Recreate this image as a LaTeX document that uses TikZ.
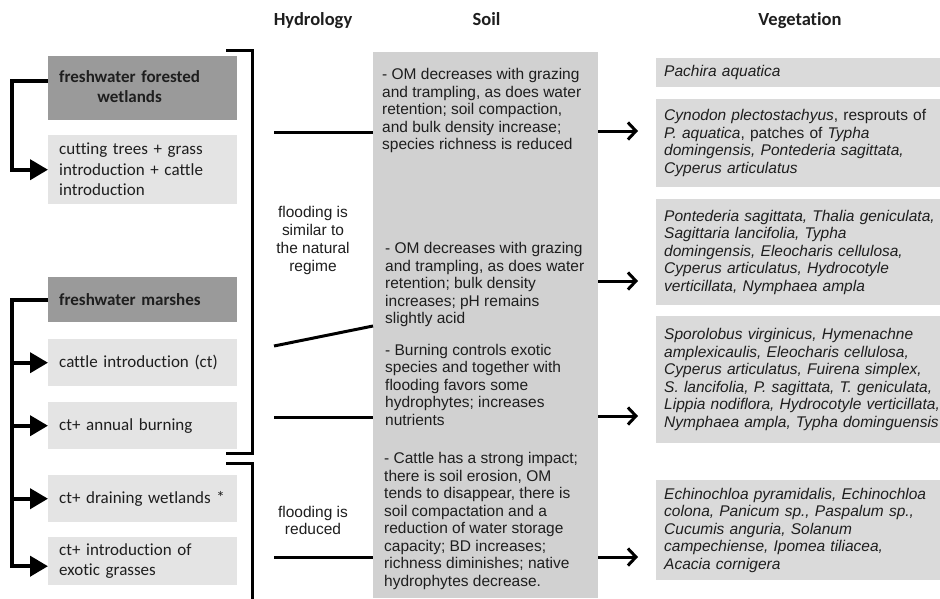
\documentclass[tikz,border=0pt]{standalone}
\usepackage{fontspec}
\setmainfont{Liberation Sans}
\newfontfamily\carlito[Ligatures=NoCommon]{Carlito}
\usetikzlibrary{arrows.meta,calc}
\definecolor{darkbox}{HTML}{9A9A9A}
\definecolor{lightbox}{HTML}{E4E4E4}
\definecolor{soilgray}{HTML}{D1D1D1}
\definecolor{veggray}{HTML}{DADADA}
\definecolor{ink}{HTML}{1E1E1E}
\begin{document}
\begin{tikzpicture}[x=1pt,y=-1pt,
  every node/.style={text=ink},
  hdr/.style={font=\carlito\bfseries\fontsize{18.5}{22}\selectfont, anchor=base},
  lbox/.style={anchor=north west, fill=lightbox, minimum width=189pt, inner xsep=11pt, text width=167pt, align=left, font=\carlito\fontsize{17}{20.5}\selectfont},
  dbox/.style={lbox, fill=darkbox, font=\carlito\bfseries\fontsize{17}{20.5}\selectfont},
  body/.style={font=\fontsize{15.5}{17.5}\selectfont, align=left, inner sep=0pt, anchor=west},
  hyd/.style={font=\fontsize{15.5}{17.7}\selectfont, align=center, inner sep=0pt},
  vegbox/.style={anchor=north west, fill=veggray, minimum width=300pt, inner xsep=8pt, inner ysep=3pt, text width=284pt, align=left, font=\fontsize{15.5}{17.5}\selectfont},
  conn/.style={line width=4pt, -{Triangle[length=18pt,width=20pt]}},
  brk/.style={line width=3pt},
  hline/.style={line width=3pt},
  varrow/.style={line width=3pt, -{Straight Barb[length=8pt,width=17pt]}},
]
\fill[white] (0,0) rectangle (940,598);
\useasboundingbox (0,0) rectangle (940,598);

% headers
\node[hdr] (hh) at (313,25) {Hydrology};
\node[hdr] (hs) at (486.5,25) {Soil};
\node[hdr] (hv) at (800,25) {Vegetation};

% soil column
\node[fill=soilgray, anchor=north west, minimum width=225pt, minimum height=546pt, inner sep=0pt] (soil) at (373,52) {};
\node[body] (s1) at (382,110.5) {- OM decreases with grazing\\and trampling, as does water\\retention; soil compaction,\\and bulk density increase;\\species richness is reduced};
\node[body] (s2) at (385,284.5) {- OM decreases with grazing\\and trampling, as does water\\retention; bulk density\\increases; pH remains\\slightly acid};
\node[body] (s3) at (385,384.5) {- Burning controls exotic\\species and together with\\flooding favors some\\hydrophytes; increases\\nutrients};
\node[body] (s4) at (384,521) {- Cattle has a strong impact;\\there is soil erosion, OM\\tends to disappear, there is\\soil compactation and a\\reduction of water storage\\capacity; BD increases;\\richness diminishes; native\\hydrophytes decrease.};

% left boxes
\node[dbox, minimum height=64pt] (fw) at (48,56) {\begin{tabular}{@{}c@{}}freshwater forested\\wetlands\end{tabular}};
\node[lbox, minimum height=69pt] (cut) at (48,135) {cutting trees + grass\\introduction + cattle\\introduction};
\node[dbox, minimum height=45pt] (marsh) at (48,277) {freshwater marshes};
\node[lbox, minimum height=47pt] (ct) at (48,339) {cattle introduction (ct)};
\node[lbox, minimum height=47pt] (burn) at (48,402) {ct+ annual burning};
\node[lbox, minimum height=47pt] (drain) at (48,475) {ct+ draining wetlands *};
\node[lbox, minimum height=48pt] (exo) at (48,537) {ct+ introduction of\\exotic grasses};

% left connectors
\draw[conn] ([yshift=7pt]fw.west) -- ++(-36,0) |- (cut.west);
\draw[conn] (marsh.west) -- ++(-36,0) coordinate (mv) |- ([yshift=-5pt]exo.west);
\foreach \b in {ct,burn,drain} \draw[conn] (mv |- \b.west) -- (\b.west);

% brackets
\coordinate (b1t) at (226,50);
\coordinate (b1b) at (226,453);
\draw[brk] (b1t) -- ++(26,0) |- (b1b);
\coordinate (b2t) at (226,463);
\coordinate (b2b) at (252,600);
\draw[brk] (b2t) -| (b2b);

% hydrology
\node[hyd] (fl1) at (313,240.5) {flooding is\\similar to\\the natural\\regime};
\node[hyd] (fl2) at (313,520.5) {flooding is\\reduced};
\coordinate (h1) at (274,132);
\coordinate (h2) at (274,346);
\coordinate (h2e) at (373,326);
\coordinate (h3) at (274,417);
\coordinate (h4) at (274,557);
\draw[hline] (h1) -- (soil.west |- h1);
\draw[hline] (h2) -- (soil.west |- h2e);
\draw[hline] (h3) -- (soil.west |- h3);
\draw[hline] (h4) -- (soil.west |- h4);

% vegetation
\node[vegbox, minimum height=29pt] (v1) at (656,58) {\textit{Pachira aquatica}};
\node[vegbox, minimum height=88pt] (v2) at (656,99) {\textit{Cynodon plectostachyus}, resprouts of\\\textit{P. aquatica}, patches of \textit{Typha}\\\textit{domingensis, Pontederia sagittata,}\\\textit{Cyperus articulatus}};
\node[vegbox, minimum height=106pt] (v3) at (656,199) {\itshape Pontederia sagittata, Thalia geniculata,\\Sagittaria lancifolia, Typha\\domingensis, Eleocharis cellulosa,\\Cyperus articulatus, Hydrocotyle\\verticillata, Nymphaea ampla};
\node[vegbox, minimum height=127pt] (v4) at (656,316) {\itshape Sporolobus virginicus, Hymenachne\\amplexicaulis, Eleocharis cellulosa,\\Cyperus articulatus, Fuirena simplex,\\S. lancifolia, P. sagittata, T. geniculata,\\Lippia nodiflora, Hydrocotyle verticillata,\\Nymphaea ampla, Typha dominguensis};
\node[vegbox, minimum height=100pt] (v5) at (656,480) {\itshape Echinochloa pyramidalis, Echinochloa\\colona, Panicum sp., Paspalum sp.,\\Cucumis anguria, Solanum\\campechiense, Ipomea tiliacea,\\Acacia cornigera};

% soil -> vegetation arrows
\coordinate (a1) at (638,131);
\coordinate (a2) at (638,281);
\coordinate (a3) at (638,416);
\coordinate (a4) at (638,557);
\foreach \a in {a1,a2,a3,a4} \draw[varrow] (soil.east |- \a) -- (\a);
\end{tikzpicture}
\end{document}
